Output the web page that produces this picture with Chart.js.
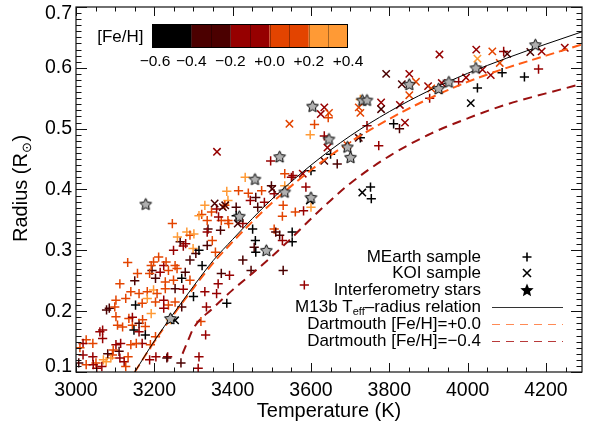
<!DOCTYPE html>
<html><head><meta charset="utf-8">
<script src="https://cdn.jsdelivr.net/npm/chart.js@4"></script>
<style>html,body{margin:0;padding:0;background:#fff}#wrap{width:589px;height:423px;position:relative}</style>
</head><body><div id="wrap"><canvas id="c" width="589" height="423"></canvas></div>
<script>
// ---------- DATA ----------
const xTicks = [3000, 3200, 3400, 3600, 3800, 4000, 4200];
const yTicks = [0.1, 0.2, 0.3, 0.4, 0.5, 0.6, 0.7];
const cbEdges = [-0.6, -0.4, -0.2, 0.0, 0.2, 0.4];
const cbLabels = ['\u22120.6', '\u22120.4', '\u22120.2', '+0.0', '+0.2', '+0.4'];
const binColors = ['#000000', '#4b0000', '#960000', '#e34400', '#ff9a35'];

const m13bT = [3150,3200,3250,3300,3350,3400,3450,3500,3600,3700,3800,3900,4000,4100,4200,4300];
const m13bR = [0.100,0.151,0.197,0.241,0.283,0.318,0.352,0.384,0.440,0.488,0.528,0.562,0.591,0.616,0.639,0.661];
const dm0T = [3150,3200,3250,3300,3350,3400,3450,3500,3600,3700,3800,3900,4000,4100,4200,4300];
const dm0R = [0.100,0.150,0.195,0.238,0.279,0.314,0.347,0.378,0.432,0.478,0.516,0.549,0.577,0.600,0.620,0.640];
const dm4T = [3272,3285,3300,3350,3400,3450,3500,3550,3600,3650,3700,3800,3900,4000,4100,4200,4300];
const dm4R = [0.130,0.150,0.172,0.205,0.235,0.262,0.290,0.320,0.352,0.382,0.410,0.455,0.490,0.517,0.540,0.558,0.575];

const mearthT = [4092,4088,4145,4181,4025,3977,3903,3811,3826,3743,
 3726,3773,3726,3644,3609,3598,3634,3650,3667,3600,
 3533,3554,3587,3533,3752,3754,3497,3432,3550,3385,
 3415,3440,3474,3499,3459,3506,3560,3529,3527,3506,
 3445,3481,3464,3388,3380,3359,3329,3346,3321,3409,
 3409,3426,3388,3371,3337,3451,3458,3455,3510,3527,
 3552,3552,3581,3600,3520,3529,3583,3459,3426,3447,
 3371,3392,3363,3329,3359,3385,3333,3319,3331,3312,
 3314,3268,3234,3188,3204,3314,3335,3364,3390,3283,
 3291,3266,3249,3274,3299,3211,3198,3224,3253,3291,
 3280,3306,3314,3335,3322,3348,3356,3335,3301,3259,
 3246,3369,3194,3215,3236,3258,3279,3203,3228,3249,
 3270,3291,3228,3253,3274,3140,3161,3182,3198,3207,
 3182,3102,3127,3152,3169,3203,3224,3236,3253,3270,
 3224,3085,3102,3135,3106,3119,3144,3161,3148,3161,
 3177,3177,3203,3068,3068,3026,3018,3043,3102,3114,
 3140,3169,3190,3110,3093,3089,3081,3018,3043,3051,
 3026,3123,3127,3232,3300,3241,3007,3044,3053,3070,
 3077,3095,3112,3133,3154,3066,3078,3099,3144,3170,
 3192,3192,3188,3230,3061,3010,3132,3157,3112,3150];
const mearthR = [0.627,0.592,0.585,0.598,0.567,0.577,0.550,0.508,0.500,0.505,
 0.485,0.472,0.548,0.518,0.507,0.490,0.488,0.458,0.442,0.431,
 0.426,0.423,0.404,0.406,0.404,0.385,0.447,0.420,0.420,0.397,
 0.398,0.394,0.398,0.406,0.387,0.393,0.363,0.374,0.356,0.335,
 0.382,0.379,0.371,0.382,0.374,0.368,0.374,0.363,0.359,0.371,
 0.357,0.344,0.349,0.349,0.335,0.335,0.316,0.305,0.330,0.316,
 0.330,0.314,0.365,0.371,0.325,0.267,0.243,0.297,0.284,0.267,
 0.262,0.259,0.245,0.232,0.229,0.213,0.207,0.183,0.161,0.106,
 0.125,0.115,0.125,0.120,0.125,0.357,0.349,0.355,0.344,0.330,
 0.325,0.314,0.300,0.307,0.303,0.289,0.281,0.275,0.275,0.284,
 0.311,0.295,0.300,0.308,0.275,0.316,0.297,0.330,0.327,0.322,
 0.344,0.333,0.267,0.264,0.267,0.270,0.264,0.254,0.248,0.251,
 0.254,0.251,0.237,0.237,0.236,0.232,0.229,0.232,0.235,0.229,
 0.221,0.218,0.221,0.210,0.213,0.215,0.218,0.210,0.215,0.207,
 0.205,0.205,0.191,0.188,0.177,0.174,0.177,0.180,0.169,0.166,
 0.175,0.161,0.158,0.169,0.155,0.153,0.147,0.147,0.145,0.147,
 0.145,0.147,0.145,0.134,0.128,0.123,0.130,0.128,0.125,0.115,
 0.112,0.117,0.109,0.123,0.224,0.186,0.115,0.112,0.106,0.120,
 0.117,0.136,0.123,0.125,0.147,0.109,0.202,0.207,0.190,0.186,
 0.196,0.275,0.262,0.281,0.166,0.140,0.280,0.262,0.245,0.250];
const mearthFeH = [-0.1,-0.5,-0.5,-0.1,-0.5,-0.1,-0.1,-0.5,-0.3,-0.1,
 -0.5,-0.1,0.3,0.1,0.1,0.3,-0.1,-0.5,-0.3,-0.5,
 0.1,-0.1,-0.1,0.3,-0.5,-0.5,-0.1,0.3,-0.1,0.3,
 0.1,0.1,0.1,-0.3,-0.3,-0.1,0.1,0.1,0.1,0.1,
 -0.1,-0.1,-0.3,0.3,0.1,-0.1,0.3,0.1,0.1,-0.3,
 -0.5,-0.1,0.1,0.1,-0.3,-0.5,-0.5,-0.3,-0.3,-0.1,
 -0.5,-0.5,-0.1,0.3,-0.3,-0.3,-0.1,-0.5,-0.3,-0.3,
 -0.3,-0.1,-0.1,-0.1,-0.1,-0.5,-0.1,0.1,-0.1,-0.1,
 -0.1,-0.3,-0.1,-0.1,-0.1,0.3,0.1,-0.1,0.1,0.3,
 0.1,-0.3,-0.1,-0.1,0.3,0.1,0.1,-0.1,0.1,-0.3,
 -0.1,-0.3,-0.5,-0.3,-0.5,0.1,0.1,-0.1,0.3,0.3,
 0.1,-0.3,-0.3,-0.1,0.1,0.1,-0.3,-0.3,0.1,0.1,
 -0.5,0.1,0.1,-0.3,-0.1,0.1,0.1,0.1,0.3,0.1,
 0.3,0.1,0.1,-0.5,0.1,0.1,-0.1,0.1,0.1,-0.3,
 -0.1,-0.3,0.1,0.1,0.1,0.1,0.1,-0.3,-0.5,-0.1,
 0.1,-0.5,0.1,-0.1,-0.1,0.1,-0.1,0.1,-0.1,-0.1,
 0.1,-0.1,0.1,-0.3,0.1,0.3,-0.3,-0.1,-0.1,0.1,
 0.1,-0.1,0.1,-0.3,-0.5,0.3,-0.3,-0.1,-0.1,0.3,
 0.3,0.1,-0.1,0.1,0.1,-0.1,-0.3,0.1,-0.1,0.1,
 0.3,0.1,0.1,0.1,-0.1,0.1,0.1,0.1,0.1,-0.3];

const koiT = [4022,4063,3928,4101,4025,4160,4189,4248,4038,4059,
 4082,4008,3996,3934,3899,3907,3851,3832,3868,3851,
 3792,3827,3779,3779,3840,3722,3726,3634,3646,3625,
 3545,3642,3722,3634,3579,3731,3360,3381,3354,3375,
 3693,3501,3253,3597,3413];
const koiR = [0.630,0.627,0.622,0.623,0.615,0.626,0.627,0.633,0.597,0.588,
 0.608,0.542,0.584,0.575,0.570,0.566,0.590,0.573,0.577,0.555,
 0.590,0.539,0.543,0.532,0.510,0.535,0.526,0.535,0.526,0.524,
 0.508,0.469,0.485,0.447,0.426,0.395,0.462,0.374,0.377,0.371,
 0.473,0.401,0.185,0.382,0.344];
const koiFeH = [-0.1,0.1,-0.1,-0.3,0.3,-0.3,-0.1,-0.1,-0.1,-0.1,
 0.1,-0.5,-0.1,-0.1,-0.1,0.1,-0.1,-0.3,0.1,0.1,
 -0.3,-0.1,-0.1,-0.3,-0.1,0.1,0.1,-0.1,0.1,-0.1,
 0.1,-0.1,-0.3,-0.3,-0.1,-0.5,-0.1,-0.3,-0.3,-0.3,
 0.1,-0.3,-0.5,-0.5,-0.3];

const interfT = [4173,4021,3952,3926,3851,3731,3743,3604,3646,3693,3701,3520,3533,3600,3457,3178,3417,3486,3241];
const interfR = [0.638,0.600,0.577,0.566,0.573,0.547,0.547,0.537,0.483,0.470,0.453,0.454,0.396,0.387,0.417,0.376,0.356,0.300,0.188];

// ---------- helpers ----------
const FONT = "'Liberation Sans', Arial, Helvetica, sans-serif";
function fehColor(f){ const i = Math.max(0, Math.min(4, Math.floor((f + 0.6) / 0.2 + 1e-9))); return binColors[i]; }
function pts(T, R){ return T.map((t, i) => ({x: t, y: R[i]})); }
function starPath(g, cx, cy, r, ratio){
  g.beginPath();
  for (let i = 0; i < 10; i++) {
    const rr = (i % 2) ? r * ratio : r;
    const a = -Math.PI / 2 + i * Math.PI / 5;
    const px = cx + rr * Math.cos(a), py = cy + rr * Math.sin(a);
    if (i === 0) g.moveTo(px, py); else g.lineTo(px, py);
  }
  g.closePath();
}
function starCanvas(r, fill, stroke, lw){
  const s = Math.ceil(2 * r + 4);
  const c = document.createElement('canvas'); c.width = s; c.height = s;
  const g = c.getContext('2d');
  starPath(g, s / 2, s / 2 + 0.5, r, 0.5);
  g.fillStyle = fill; g.fill();
  g.lineWidth = lw; g.strokeStyle = stroke; g.stroke();
  return c;
}
const grayStar = starCanvas(6.2, '#b0b0b0', '#000', 1);

// ---------- plugin: frame, ticks, y labels, colorbar, legend, y title ----------
const framePlugin = {
  id: 'frame',
  afterDatasetsDraw(chart){
    const ctx = chart.ctx, a = chart.chartArea, xs = chart.scales.x, ys = chart.scales.y;
    ctx.save();
    ctx.strokeStyle = '#111'; ctx.lineWidth = 1.2;
    ctx.strokeRect(a.left, a.top, a.right - a.left, a.bottom - a.top);
    ctx.lineWidth = 1;
    ctx.beginPath();
    for (let v = 3000; v <= 4300; v += 50) {
      const x = Math.round(xs.getPixelForValue(v)) + 0.5;
      if (x < a.left || x > a.right) continue;
      const L = (v % 200 === 0) ? 9 : 4.5;
      ctx.moveTo(x, a.bottom); ctx.lineTo(x, a.bottom - L);
      ctx.moveTo(x, a.top); ctx.lineTo(x, a.top + L);
    }
    for (let k = 10; k <= 70; k++) {
      const v = k / 100;
      const y = Math.round(ys.getPixelForValue(v)) + 0.5;
      if (y < a.top - 1 || y > a.bottom + 1) continue;
      const L = (k % 10 === 0) ? 11 : 5.5;
      ctx.moveTo(a.left, y); ctx.lineTo(a.left + L, y);
      ctx.moveTo(a.right, y); ctx.lineTo(a.right - L, y);
    }
    ctx.stroke();
    ctx.fillStyle = '#000'; ctx.font = '19.5px ' + FONT; ctx.textAlign = 'right'; ctx.textBaseline = 'middle';
    const n = yTicks.length;
    yTicks.forEach((v, i) => {
      let y = ys.getPixelForValue(v);
      if (i === n - 1) y += 6.5;
      if (i === 0) y -= 5;
      ctx.fillText(v.toFixed(1), 72, y);
    });
    ctx.restore();
  },
  afterDraw(chart){
    const ctx = chart.ctx;
    ctx.save();
    const cb = {l: 152, r: 348, t: 24, b: 48};
    const span = cbEdges[cbEdges.length - 1] - cbEdges[0];
    const px = v => cb.l + (v - cbEdges[0]) / span * (cb.r - cb.l);
    for (let i = 0; i < binColors.length; i++) {
      ctx.fillStyle = binColors[i];
      ctx.fillRect(px(cbEdges[i]), cb.t, px(cbEdges[i + 1]) - px(cbEdges[i]), cb.b - cb.t);
    }
    ctx.strokeStyle = 'rgba(0,0,0,0.35)'; ctx.lineWidth = 1;
    ctx.beginPath();
    for (let k = -5; k <= 3; k++) { const x = Math.round(px(k / 10)) + 0.5; ctx.moveTo(x, cb.t); ctx.lineTo(x, cb.b); }
    ctx.stroke();
    ctx.strokeStyle = '#000'; ctx.lineWidth = 1;
    ctx.strokeRect(cb.l + 0.5, cb.t + 0.5, cb.r - cb.l - 1, cb.b - cb.t - 1);
    ctx.fillStyle = '#000';
    ctx.font = '15.5px ' + FONT; ctx.textAlign = 'center'; ctx.textBaseline = 'middle';
    cbEdges.forEach((v, i) => ctx.fillText(cbLabels[i], px(v) + (i === 0 ? 3 : 0), 62));
    ctx.font = '17px ' + FONT; ctx.textAlign = 'right';
    ctx.fillText('[Fe/H]', 143.5, 37);

    const tx = 481, sx = 527;
    const rows = [257, 273, 290, 307, 324, 341];
    ctx.font = '17px ' + FONT; ctx.textAlign = 'right'; ctx.textBaseline = 'middle'; ctx.fillStyle = '#000';
    ctx.fillText('MEarth sample', tx, rows[0]);
    ctx.fillText('KOI sample', tx, rows[1]);
    ctx.fillText('Interferometry stars', tx, rows[2]);
    const p1 = 'M13b T', p2 = 'eff', p3 = '\u2013radius relation';
    ctx.font = '17px ' + FONT; const w1 = ctx.measureText(p1).width, w3 = ctx.measureText(p3).width;
    ctx.font = '11px ' + FONT; const w2 = ctx.measureText(p2).width;
    let x0 = tx - (w1 + w2 + w3);
    ctx.textAlign = 'left';
    ctx.font = '17px ' + FONT; ctx.fillText(p1, x0, rows[3]);
    ctx.font = '11px ' + FONT; ctx.fillText(p2, x0 + w1, rows[3] + 5);
    ctx.font = '17px ' + FONT; ctx.fillText(p3, x0 + w1 + w2, rows[3]);
    ctx.textAlign = 'right';
    ctx.fillText('Dartmouth [Fe/H]=+0.0', tx, rows[4]);
    ctx.fillText('Dartmouth [Fe/H]=\u22120.4', tx, rows[5]);
    ctx.strokeStyle = '#000'; ctx.lineWidth = 1.6;
    ctx.beginPath();
    ctx.moveTo(sx - 4.5, rows[0]); ctx.lineTo(sx + 4.5, rows[0]);
    ctx.moveTo(sx, rows[0] - 4.5); ctx.lineTo(sx, rows[0] + 4.5);
    ctx.moveTo(sx - 4, rows[1] - 4); ctx.lineTo(sx + 4, rows[1] + 4);
    ctx.moveTo(sx + 4, rows[1] - 4); ctx.lineTo(sx - 4, rows[1] + 4);
    ctx.stroke();
    starPath(ctx, sx, rows[2] + 0.5, 7, 0.45); ctx.fillStyle = '#000'; ctx.fill();
    ctx.lineWidth = 1.2; ctx.strokeStyle = '#333';
    ctx.beginPath(); ctx.moveTo(492, rows[3] + 0.5); ctx.lineTo(563, rows[3] + 0.5); ctx.stroke();
    ctx.setLineDash([8, 6]);
    ctx.strokeStyle = '#ff8a55';
    ctx.beginPath(); ctx.moveTo(492, rows[4] + 0.5); ctx.lineTo(563, rows[4] + 0.5); ctx.stroke();
    ctx.strokeStyle = '#b83a3a';
    ctx.beginPath(); ctx.moveTo(492, rows[5] + 0.5); ctx.lineTo(563, rows[5] + 0.5); ctx.stroke();
    ctx.setLineDash([]);

    ctx.translate(27, 242); ctx.rotate(-Math.PI / 2);
    ctx.textAlign = 'left'; ctx.textBaseline = 'alphabetic'; ctx.fillStyle = '#000';
    ctx.font = '20px ' + FONT;
    const q1 = 'Radius (R'; const wq1 = ctx.measureText(q1).width;
    ctx.fillText(q1, 0, 0);
    ctx.font = '13px ' + FONT; const wq2 = ctx.measureText('\u2299').width;
    ctx.fillText('\u2299', wq1, 4);
    ctx.font = '20px ' + FONT; ctx.fillText(')', wq1 + wq2 + 0.5, 0);
    ctx.restore();
  }
};

// ---------- chart ----------
new Chart(document.getElementById('c').getContext('2d'), {
  type: 'scatter',
  data: { datasets: [
    { label: 'Interferometry stars', data: pts(interfT, interfR), pointStyle: grayStar, pointRadius: 6, order: 0 },
    { label: 'M13b', type: 'line', data: pts(m13bT, m13bR), borderColor: '#000', borderWidth: 1, pointRadius: 0, cubicInterpolationMode: 'monotone', fill: false, order: 1 },
    { label: 'Dartmouth 0.0', type: 'line', data: pts(dm0T, dm0R), borderColor: '#ff5a14', borderWidth: 2, borderDash: [9, 5], pointRadius: 0, cubicInterpolationMode: 'monotone', fill: false, order: 1 },
    { label: 'Dartmouth -0.4', type: 'line', data: pts(dm4T, dm4R), borderColor: '#9a1010', borderWidth: 2, borderDash: [9, 6], pointRadius: 0, cubicInterpolationMode: 'monotone', fill: false, order: 1 },
    { label: 'KOI', data: pts(koiT, koiR), pointStyle: 'crossRot', pointRadius: 5.2, borderWidth: 1.5,
      pointBorderColor: koiFeH.map(fehColor), order: 2 },
    { label: 'MEarth', data: pts(mearthT, mearthR), pointStyle: 'cross', pointRadius: 4.6, borderWidth: 1.5,
      pointBorderColor: mearthFeH.map(fehColor), order: 3 }
  ]},
  options: {
    responsive: false, animation: false, events: [],
    layout: { padding: { top: 6, right: 2, left: 0, bottom: 0 } },
    plugins: { legend: { display: false }, tooltip: { enabled: false } },
    scales: {
      x: { type: 'linear', min: 3000, max: 4292,
        afterBuildTicks: s => { s.ticks = xTicks.map(v => ({ value: v })); },
        afterFit: s => { s.height = 51; s.paddingLeft = 0; s.paddingRight = 0; },
        grid: { display: false, drawTicks: false }, border: { display: false },
        ticks: { color: '#000', font: { family: FONT, size: 19.5 }, padding: 7, maxRotation: 0, autoSkip: false, callback: v => String(v) },
        title: { display: true, text: 'Temperature (K)', color: '#000', font: { family: FONT, size: 20 }, padding: { top: 0, bottom: 0 } }
      },
      y: { type: 'linear', min: 0.1, max: 0.7,
        afterBuildTicks: s => { s.ticks = yTicks.map(v => ({ value: v })); },
        afterFit: s => { s.width = 76; s.paddingTop = 0; s.paddingBottom = 0; },
        grid: { display: false, drawTicks: false }, border: { display: false },
        ticks: { display: false }
      }
    }
  },
  plugins: [framePlugin]
});
</script></body></html>
